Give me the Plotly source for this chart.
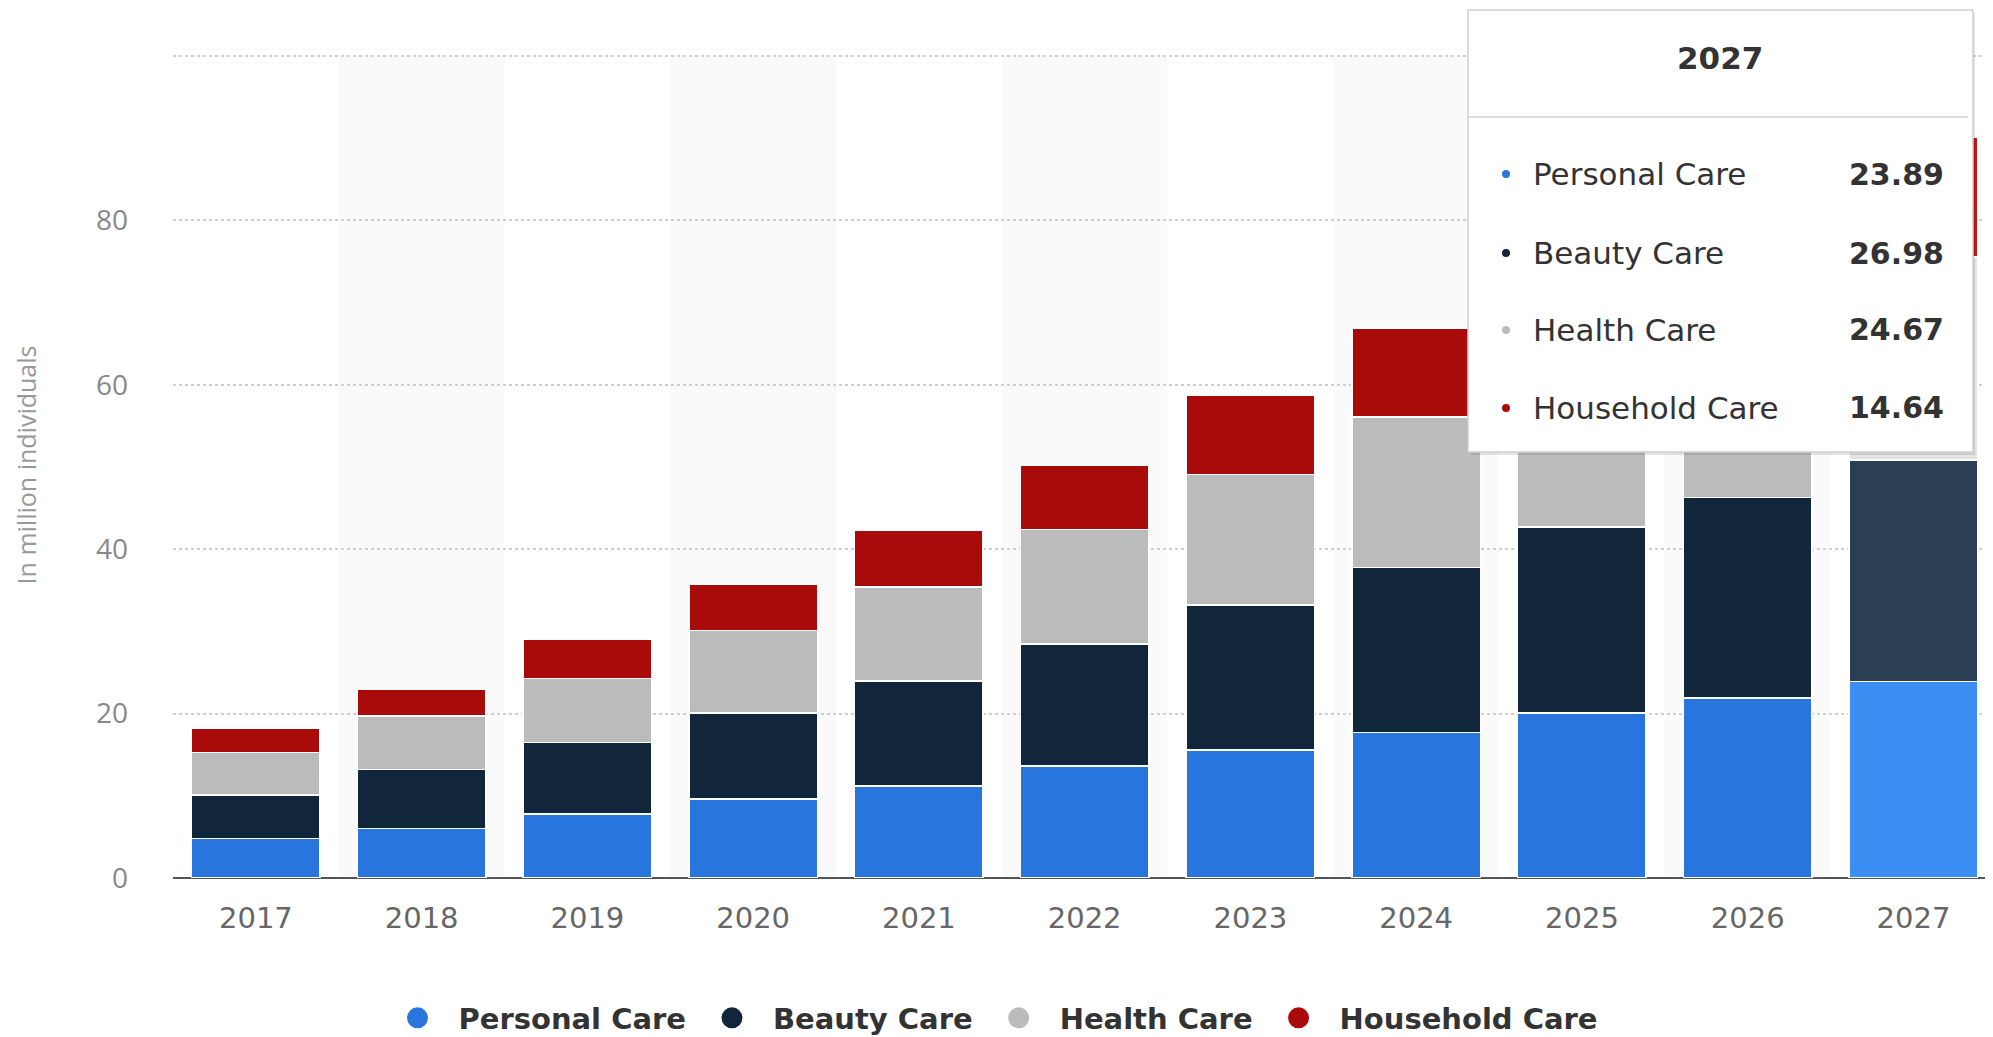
import plotly.graph_objects as go

# ---------------- data ----------------
years = ["2017", "2018", "2019", "2020", "2021", "2022", "2023", "2024", "2025", "2026", "2027"]
personal_care = [4.8, 6.0, 7.8, 9.6, 11.2, 13.6, 15.6, 17.7, 20.1, 21.9, 23.89]
beauty_care = [5.3, 7.2, 8.7, 10.5, 12.8, 14.9, 17.6, 20.1, 22.6, 24.4, 26.98]
health_care = [5.2, 6.5, 7.8, 10.0, 11.4, 13.9, 15.9, 18.3, 20.5, 22.6, 24.67]
household_care = [2.9, 3.3, 4.7, 5.6, 6.9, 7.8, 9.6, 10.8, 12.2, 13.4, 14.64]
series_names = ["Personal Care", "Beauty Care", "Health Care", "Household Care"]
y_tick_vals = [0, 20, 40, 60, 80, 100]
y_tick_text = ["0", "20", "40", "60", "80", ""]
y_title = "In million individuals"

# ---------------- style ----------------
base_colors = ["#2876dd", "#12263b", "#bbbbbb", "#a90a0a"]
hover_colors = ["#3d8ef2", "#2c3e54", "#e4e4e4", "#c41414"]
SANS = "DejaVu Sans"
THIN = "Open Sans"

OFF = 8                     # page body margin
W, H = 1993 - OFF, 1037 - OFF
ML, MR, MT, MB = 173 - OFF, 0, 52 - OFF, 159
PW, PH = W - ML - MR, H - MT - MB


def px_x(px):               # reference-screen x -> paper fraction
    return (px - OFF - ML) / PW


def px_y(py):               # reference-screen y -> paper fraction
    return (H - MB - (py - OFF)) / PH


fig = go.Figure()

all_series = [personal_care, beauty_care, health_care, household_care]
hi = len(years) - 1  # highlighted (hovered) category
for name, vals, c, hc in zip(series_names, all_series, base_colors, hover_colors):
    cols = [hc if i == hi else c for i in range(len(years))]
    fig.add_trace(go.Bar(
        x=years, y=vals, name=name,
        marker=dict(color=cols, line=dict(color="white", width=1.5)),
        showlegend=False,
    ))
    # legend entry with a round symbol
    fig.add_trace(go.Scatter(
        x=[None], y=[None], mode="markers", name=name,
        marker=dict(symbol="circle", size=30, color=c, line=dict(color=c, width=5)),
        showlegend=True,
    ))

shapes = []
# alternating background bands
for i in range(1, len(years), 2):
    shapes.append(dict(type="rect", xref="x", yref="y", x0=i - 0.5, x1=i + 0.5,
                       y0=0, y1=100, fillcolor="#fafafa", line=dict(width=0), layer="below"))

# tooltip box
bx0, bx1, by0, by1 = 1468, 1973, 10, 452
shapes.append(dict(type="rect", xref="paper", yref="paper",
                   x0=px_x(bx0 + 3), x1=px_x(bx1 + 2), y0=px_y(by1 + 3), y1=px_y(by0 + 3),
                   fillcolor="rgba(0,0,0,0.10)", line=dict(width=0), layer="above"))
shapes.append(dict(type="rect", xref="paper", yref="paper",
                   x0=px_x(bx0), x1=px_x(bx1), y0=px_y(by1), y1=px_y(by0),
                   fillcolor="white", line=dict(color="#cfcfcf", width=1.5), layer="above"))
shapes.append(dict(type="line", xref="paper", yref="paper",
                   x0=px_x(bx0), x1=px_x(bx1 - 5), y0=px_y(117), y1=px_y(117),
                   line=dict(color="#d0d0d0", width=1.5), layer="above"))

annotations = [dict(text=f"<b>{years[hi]}</b>", xref="paper", yref="paper",
                    x=px_x(1720), y=px_y(58), xanchor="center", yanchor="middle",
                    showarrow=False,
                    font=dict(family=SANS, size=31, color="#333333"))]
row_y = [174, 253, 330, 408]
for name, vals, c, ry in zip(series_names, all_series, base_colors, row_y):
    shapes.append(dict(type="circle", xref="paper", yref="paper",
                       xsizemode="pixel", ysizemode="pixel",
                       xanchor=px_x(1506), yanchor=px_y(ry),
                       x0=-4, x1=4, y0=-4, y1=4,
                       fillcolor=c, line=dict(width=0), layer="above"))
    annotations.append(dict(text=name, xref="paper", yref="paper",
                            x=px_x(1531), y=px_y(ry), xanchor="left", yanchor="middle",
                            showarrow=False,
                            font=dict(family=SANS, size=31, color="#333333")))
    annotations.append(dict(text=f"<b>{vals[hi]:.2f}</b>", xref="paper", yref="paper",
                            x=px_x(1946), y=px_y(ry), xanchor="right", yanchor="middle",
                            showarrow=False,
                            font=dict(family=SANS, size=30, color="#333333")))

fig.update_layout(
    width=W, height=H,
    margin=dict(l=ML, r=MR, t=MT, b=MB, pad=0, autoexpand=False),
    paper_bgcolor="white", plot_bgcolor="white",
    barmode="stack", bargap=0.225,
    hovermode=False,
    font=dict(family=SANS, color="#666666"),
    shapes=shapes, annotations=annotations,
    legend=dict(orientation="h", x=px_x(990), xanchor="center",
                y=px_y(1018), yanchor="middle",
                font=dict(family=SANS, size=29, color="#333333", weight="bold"),
                itemwidth=72, traceorder="normal"),
    xaxis=dict(type="category", range=[-0.5, 10.48], showgrid=False, zeroline=False,
               showline=False, ticks="", ticklabelstandoff=20, automargin=False,
               tickfont=dict(family=SANS, size=29, color="#666666")),
    yaxis=dict(range=[0, 100.5], tickvals=y_tick_vals, ticktext=y_tick_text,
               showgrid=True, gridcolor="#cfcfcf", griddash="dot", gridwidth=1.5,
               zeroline=True, zerolinecolor="#555555", zerolinewidth=2,
               showline=False, ticks="", ticklabelstandoff=44, automargin=False,
               tickfont=dict(family=THIN, size=28, color="#888888"),
               title=dict(text=y_title, standoff=52,
                          font=dict(family=THIN, size=25, color="#999999"))),
)

fig.write_html("out.html")
